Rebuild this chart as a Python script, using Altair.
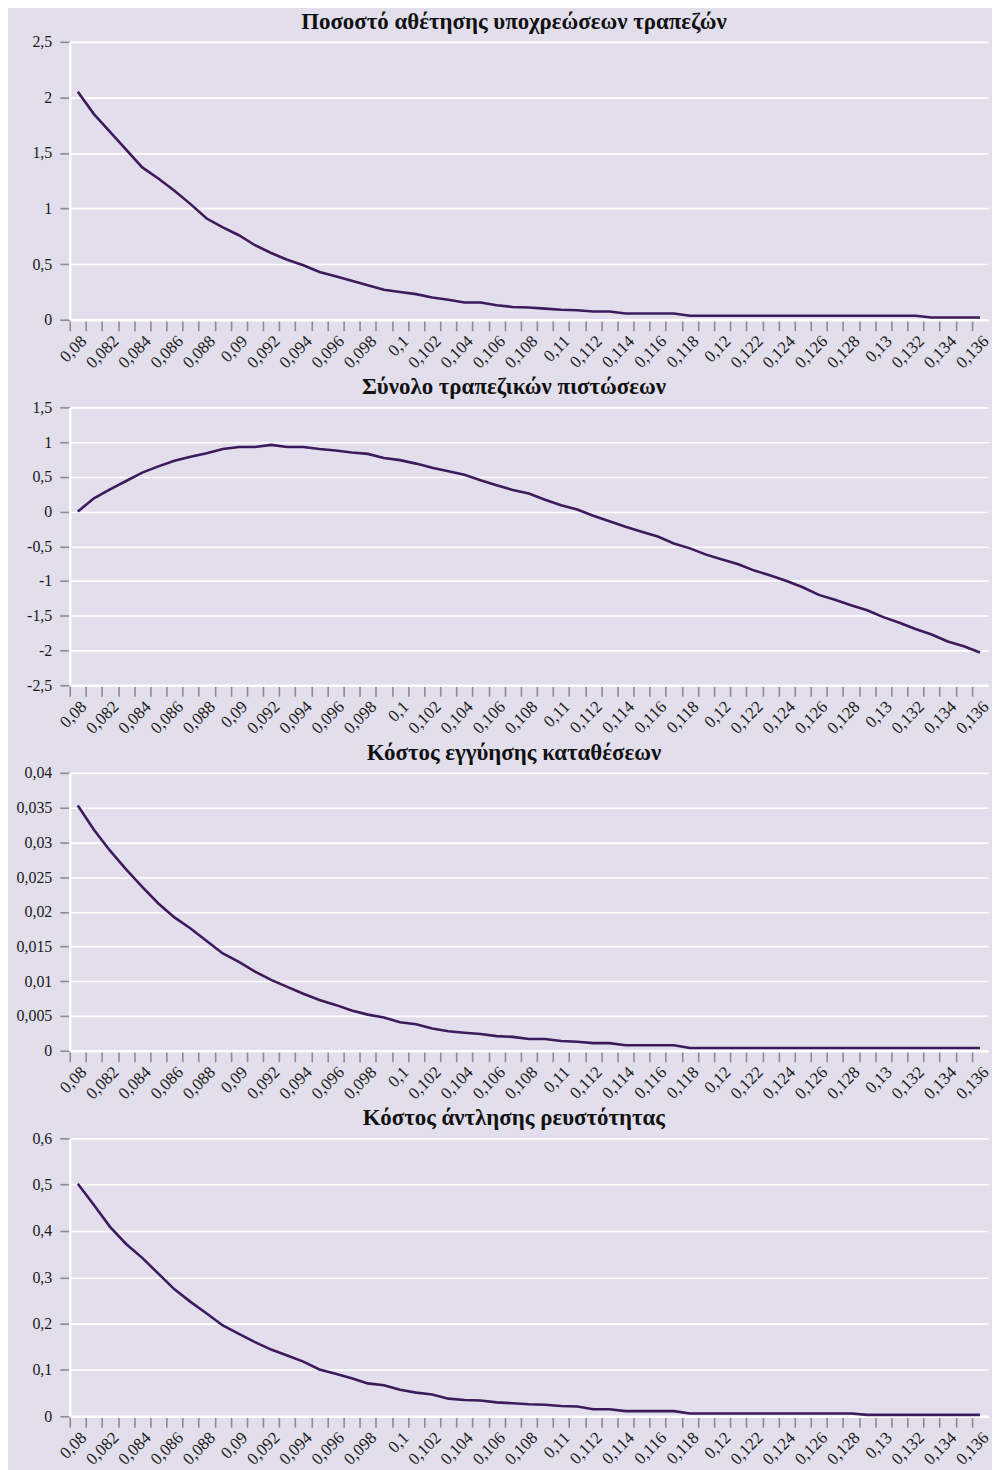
import altair as alt
import pandas as pd

# Categories (x axis)
x_values = [0.080, 0.081, 0.082, 0.083, 0.084, 0.085, 0.086, 0.087, 0.088, 0.089,
            0.090, 0.091, 0.092, 0.093, 0.094, 0.095, 0.096, 0.097, 0.098, 0.099,
            0.100, 0.101, 0.102, 0.103, 0.104, 0.105, 0.106, 0.107, 0.108, 0.109,
            0.110, 0.111, 0.112, 0.113, 0.114, 0.115, 0.116, 0.117, 0.118, 0.119,
            0.120, 0.121, 0.122, 0.123, 0.124, 0.125, 0.126, 0.127, 0.128, 0.129,
            0.130, 0.131, 0.132, 0.133, 0.134, 0.135, 0.136]

# Panel 1: bank default rate
default_rate = [2.05, 1.85, 1.69, 1.53, 1.37, 1.27, 1.16, 1.04, 0.91, 0.83,
                0.76, 0.67, 0.60, 0.54, 0.49, 0.43, 0.39, 0.35, 0.31, 0.27,
                0.25, 0.23, 0.20, 0.18, 0.155, 0.155, 0.13, 0.115, 0.11, 0.10,
                0.09, 0.085, 0.074, 0.074, 0.056, 0.056, 0.056, 0.056, 0.036, 0.036,
                0.036, 0.036, 0.036, 0.036, 0.036, 0.036, 0.036, 0.036, 0.036, 0.036,
                0.036, 0.036, 0.036, 0.02, 0.02, 0.02, 0.02]

# Panel 2: total bank credit
total_credit = [0.0, 0.19, 0.32, 0.44, 0.56, 0.65, 0.73, 0.79, 0.84, 0.90,
                0.93, 0.93, 0.96, 0.93, 0.93, 0.90, 0.88, 0.85, 0.83, 0.77,
                0.74, 0.69, 0.63, 0.58, 0.53, 0.45, 0.38, 0.31, 0.26, 0.17,
                0.09, 0.03, -0.06, -0.14, -0.22, -0.29, -0.36, -0.46, -0.53, -0.62,
                -0.69, -0.76, -0.85, -0.92, -1.00, -1.09, -1.20, -1.27, -1.35, -1.42,
                -1.52, -1.60, -1.69, -1.77, -1.87, -1.94, -2.03]

# Panel 3: deposit insurance cost
deposit_cost = [0.0353, 0.0318, 0.0288, 0.0261, 0.0236, 0.0212, 0.0192, 0.0176, 0.0158, 0.0140,
                0.0128, 0.0114, 0.0102, 0.0092, 0.0082, 0.0073, 0.0066, 0.0058, 0.0052, 0.0048,
                0.0041, 0.0038, 0.0032, 0.0028, 0.0026, 0.0024, 0.0021, 0.0020, 0.0017, 0.0017,
                0.0014, 0.0013, 0.0011, 0.0011, 0.0008, 0.0008, 0.0008, 0.0008, 0.0004, 0.0004,
                0.0004, 0.0004, 0.0004, 0.0004, 0.0004, 0.0004, 0.0004, 0.0004, 0.0004, 0.0004,
                0.0004, 0.0004, 0.0004, 0.0004, 0.0004, 0.0004, 0.0004]

# Panel 4: liquidity cost
liquidity_cost = [0.502, 0.456, 0.409, 0.372, 0.342, 0.308, 0.274, 0.247, 0.222, 0.196,
                  0.178, 0.160, 0.144, 0.131, 0.118, 0.101, 0.092, 0.082, 0.071, 0.067,
                  0.057, 0.051, 0.047, 0.038, 0.035, 0.034, 0.030, 0.028, 0.026, 0.025,
                  0.022, 0.021, 0.015, 0.015, 0.011, 0.011, 0.011, 0.011, 0.006, 0.006,
                  0.006, 0.006, 0.006, 0.006, 0.006, 0.006, 0.006, 0.006, 0.006, 0.003,
                  0.003, 0.003, 0.003, 0.003, 0.003, 0.003, 0.003]

titles = ["Ποσοστό αθέτησης υποχρεώσεων τραπεζών",
          "Σύνολο τραπεζικών πιστώσεων",
          "Κόστος εγγύησης καταθέσεων",
          "Κόστος άντλησης ρευστότητας"]

y_domains = [[0, 2.5], [-2.5, 1.5], [0, 0.04], [0, 0.6]]
y_ticks = [
    [0, 0.5, 1, 1.5, 2, 2.5],
    [-2.5, -2, -1.5, -1, -0.5, 0, 0.5, 1, 1.5],
    [0, 0.005, 0.01, 0.015, 0.02, 0.025, 0.03, 0.035, 0.04],
    [0, 0.1, 0.2, 0.3, 0.4, 0.5, 0.6],
]
series = [default_rate, total_credit, deposit_cost, liquidity_cost]

BG = "#e2deec"
LINE = "#3d1a5c"
FONT = "Liberation Serif"
W = 922
H = 279
HALF = W / len(x_values) / 2

x_label_expr = ("round(datum.value*1000) % 2 == 0 ? "
                "replace(format(datum.value, '.3~f'), '.', ',') : ''")
y_label_expr = "replace(replace(format(datum.value, '~g'), '.', ','), '\u2212', '-')"


def panel(vals, title, ydom, yt):
    df = pd.DataFrame({"x": x_values, "y": vals})
    line = (
        alt.Chart(df)
        .mark_line(color=LINE, strokeWidth=2.6)
        .encode(
            x=alt.X("x:Q", title=None,
                    scale=alt.Scale(domain=[0.0795, 0.1365], nice=False, zero=False),
                    axis=alt.Axis(values=x_values, labelExpr=x_label_expr, grid=False,
                                  labelAngle=-45, labelAlign="right", labelBaseline="top",
                                  labelFontSize=17,
                                  tickOffset=-HALF, labelOffset=HALF, tickSize=11,
                                  tickColor="#8c8a92", tickWidth=1.6,
                                  labelOverlap=False, labelFlush=False, labelPadding=2,
                                  domainColor="#ffffff", domainWidth=2.5)),
            y=alt.Y("y:Q", title=None,
                    scale=alt.Scale(domain=ydom, nice=False, zero=False),
                    axis=alt.Axis(values=yt, labelExpr=y_label_expr, grid=True,
                                  gridColor="#ffffff", gridWidth=1.6,
                                  labelFontSize=16,
                                  tickSize=10, tickColor="#8c8a92", tickWidth=1.6,
                                  labelPadding=8, minExtent=62,
                                  domainColor="#ffffff", domainWidth=2.5)),
        )
    )
    head = (
        alt.Chart(pd.DataFrame({"t": [title]}))
        .mark_text(font=FONT, fontSize=23, fontWeight="bold", color="#111111",
                   align="center", baseline="alphabetic")
        .encode(text="t:N", x=alt.value(446), y=alt.value(-13))
    )
    return alt.layer(line, head).properties(width=W, height=H)


charts = [panel(series[i], titles[i], y_domains[i], y_ticks[i]) for i in range(4)]

chart = (
    alt.vconcat(*charts, spacing=5)
    .properties(background=BG, padding={"left": 0, "top": 0, "right": 0, "bottom": 0})
    .configure_view(strokeWidth=0, fill=BG)
    .configure_axis(labelFont=FONT, labelFontSize=15, labelColor="#1a1a1a")
)

chart.save("out.html", embed_options={"renderer": "svg", "actions": False})
